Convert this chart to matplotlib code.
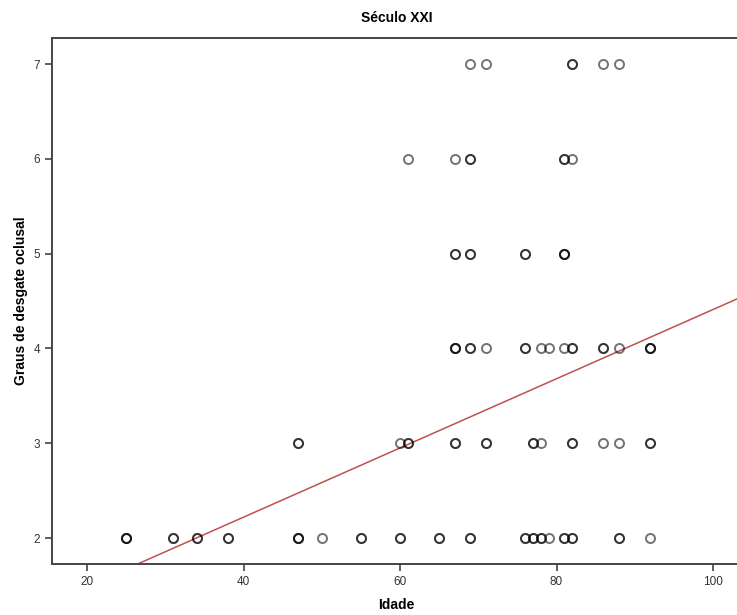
#!/usr/bin/env python3
# scatter of occlusal wear grade against age, 21st century sample,
# with the linear fit drawn on top. overlapping cases stack up darker
# because each marker is semi-transparent.

import matplotlib
matplotlib.use("Agg")
import matplotlib.pyplot as plt

# (age, wear grade, number of cases at that spot)
AGE = [25, 31, 34, 38, 47, 50, 55, 60, 65, 69, 76, 77, 78, 79, 81, 82, 88, 92,
       47, 60, 61, 67, 71, 77, 78, 82, 86, 88, 92,
       67, 69, 71, 76, 78, 79, 81, 82, 86, 88, 92,
       67, 69, 76, 81,
       61, 67, 69, 81, 82,
       69, 71, 82, 86, 88]
GRADE = [2] * 18 + [3] * 11 + [4] * 11 + [5] * 4 + [6] * 5 + [7] * 5
COUNT = [3, 2, 2, 2, 3, 1, 2, 2, 2, 2, 2, 2, 2, 1, 2, 2, 2, 1,
         2, 1, 2, 2, 2, 2, 1, 2, 1, 1, 2,
         3, 2, 1, 2, 1, 1, 1, 2, 2, 1, 3,
         2, 2, 2, 3,
         1, 1, 2, 2, 1,
         1, 1, 2, 1, 1]

# fitted line y = a + b * age
FIT_A = 0.761
FIT_B = 0.0365

XLIM = (15.5, 103.6)
YLIM = (1.726, 7.274)

plt.rcParams["font.family"] = ["Liberation Sans", "DejaVu Sans"]

fig = plt.figure(figsize=(7.37, 6.15), dpi=100)
ax = fig.add_axes([0.0706, 0.0829, 0.935, 0.855])

for x, y, n in zip(AGE, GRADE, COUNT):
    for _ in range(n):
        ax.plot(x, y, "o", ms=6.5, mfc="none", mec="black", mew=1.4,
                alpha=0.55, zorder=3)

ax.plot(XLIM, [FIT_A + FIT_B * XLIM[0], FIT_A + FIT_B * XLIM[1]],
        color="#c0504d", lw=1.1, zorder=2)

ax.set_xlim(*XLIM)
ax.set_ylim(*YLIM)
ax.set_xticks([20, 40, 60, 80, 100])
ax.set_yticks([2, 3, 4, 5, 6, 7])

for side in ("left", "bottom", "top"):
    ax.spines[side].set_color("#444444")
    ax.spines[side].set_linewidth(1.4)
ax.spines["right"].set_visible(False)
ax.tick_params(direction="out", length=5, width=1.2, color="#444444",
               labelsize=8.5, labelcolor="#333333")

ax.set_title("Século XXI", fontsize=10, fontweight="bold", pad=12)
ax.set_xlabel("Idade", fontsize=10, fontweight="bold", labelpad=7)
ax.set_ylabel("Graus de desgate oclusal", fontsize=10, fontweight="bold",
              labelpad=4)

fig.savefig("out.png", dpi=100)
